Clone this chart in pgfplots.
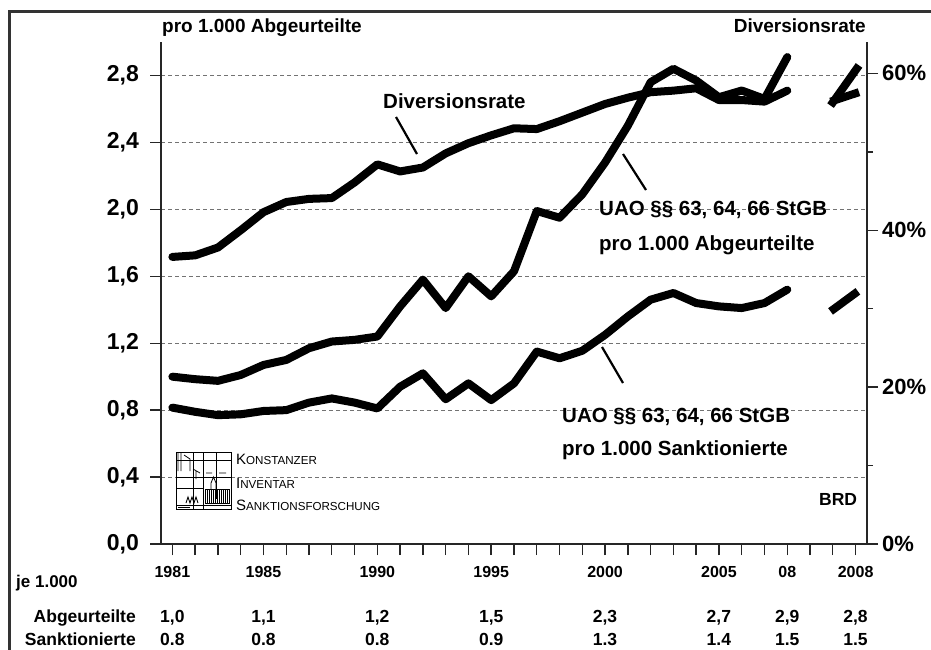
\documentclass[border=0pt]{standalone}
\usepackage{fontspec}
\setmainfont{Liberation Sans}
\usepackage{pgfplots}
\pgfplotsset{compat=1.18}

\newcommand\fs[1]{\fontsize{#1}{#1}\selectfont}

\begin{document}
\begin{tikzpicture}[x=1pt,y=1pt]
\useasboundingbox (0,0) rectangle (931,649);
\draw[line width=3pt, black!80] (9,637) rectangle (960,-30);

% left axis: per 1.000
\begin{axis}[
  at={(161pt,105pt)}, anchor=south west,
  scale only axis, width=706pt, height=502pt,
  xmin=1980.5, xmax=2011.5, ymin=0, ymax=3,
  axis x line*=bottom, axis y line*=left,
  axis line style={line width=1.6pt, black!85},
  tick style={line width=1.4pt, black!85},
  tick align=outside,
  major tick length=11pt, minor tick length=11pt,
  xtick={1981,1985,1990,1995,2000,2005,2008,2011},
  xticklabels={1981,1985,1990,1995,2000,2005,08,2008},
  minor xtick={1981,...,2011},
  ytick={0,0.4,0.8,1.2,1.6,2.0,2.4,2.8},
  ymajorgrids,
  major grid style={dash pattern=on 4pt off 3pt, black!55, line width=1pt},
  /pgf/number format/.cd, use comma, fixed, fixed zerofill, precision=1,
    assume math mode=true,
  /pgfplots/.cd,
  yticklabel style={font=\fs{23}\bfseries, inner sep=0pt, anchor=east, xshift=-11pt},
  xticklabel style={font=\fs{16}\bfseries, inner sep=0pt, anchor=base, yshift=-22pt},
]
\addplot[line width=8pt, line join=round, line cap=round] coordinates {
  (1981,1.00) (1982,0.985) (1983,0.975) (1984,1.01) (1985,1.07) (1986,1.10)
  (1987,1.17) (1988,1.21) (1989,1.22) (1990,1.24) (1991,1.42) (1992,1.58)
  (1993,1.41) (1994,1.60) (1995,1.48) (1996,1.63) (1997,1.99) (1998,1.95)
  (1999,2.09) (2000,2.28) (2001,2.50) (2002,2.76) (2003,2.84) (2004,2.77)
  (2005,2.67) (2006,2.71) (2007,2.66) (2008,2.91)};
\addplot[line width=8pt, line join=round, line cap=round] coordinates {
  (1981,0.815) (1982,0.79) (1983,0.77) (1984,0.775) (1985,0.795) (1986,0.80)
  (1987,0.845) (1988,0.87) (1989,0.845) (1990,0.81) (1991,0.94) (1992,1.02)
  (1993,0.865) (1994,0.96) (1995,0.86) (1996,0.96) (1997,1.15) (1998,1.11)
  (1999,1.155) (2000,1.25) (2001,1.36) (2002,1.46) (2003,1.50) (2004,1.44)
  (2005,1.42) (2006,1.41) (2007,1.44) (2008,1.52)};
\addplot[line width=8pt] coordinates {(2009.9,2.62) (2011.15,2.86)};
\addplot[line width=8pt] coordinates {(2009.9,1.39) (2011.1,1.51)};
\end{axis}

% right axis: Diversionsrate
\begin{axis}[
  at={(161pt,105pt)}, anchor=south west,
  scale only axis, width=706pt, height=502pt,
  xmin=1980.5, xmax=2011.5, ymin=0, ymax=64,
  axis x line=none, axis y line*=right,
  axis line style={line width=1.6pt, black!85},
  tick style={line width=1.4pt, black!85},
  tick align=outside,
  major tick length=11pt, minor tick length=6pt,
  ytick={0,20,40,60},
  yticklabels={0\%,20\%,40\%,60\%},
  minor ytick={10,30,50},
  yticklabel style={font=\fs{22}\bfseries, inner sep=0pt, anchor=west, xshift=4pt},
]
\addplot[line width=8pt, line join=round, line cap=round] coordinates {
  (1981,36.6) (1982,36.8) (1983,37.8) (1984,40.0) (1985,42.3) (1986,43.6)
  (1987,44.0) (1988,44.1) (1989,46.1) (1990,48.4) (1991,47.5) (1992,48.0)
  (1993,49.8) (1994,51.1) (1995,52.1) (1996,53.0) (1997,52.9) (1998,53.9)
  (1999,55.0) (2000,56.1) (2001,56.9) (2002,57.6) (2003,57.8) (2004,58.1)
  (2005,56.6) (2006,56.6) (2007,56.4) (2008,57.8)};
\addplot[line width=8pt] coordinates {(2009.9,56.4) (2011.15,57.6)};
\end{axis}

% titles and annotations
\node[anchor=base west, inner sep=0pt, font=\fs{19}\bfseries] at (162,616) {pro 1.000 Abgeurteilte};
\node[anchor=base east, inner sep=0pt, font=\fs{19}\bfseries] at (866,616) {Diversionsrate};
\node[anchor=base west, inner sep=0pt, font=\fs{20.5}\bfseries] at (383,540) {Diversionsrate};
\draw[line width=2.2pt] (396,532) -- (417,495);
\node[anchor=base west, inner sep=0pt, font=\fs{20.5}\bfseries] at (599,433) {UAO §§ 63, 64, 66 StGB};
\node[anchor=base west, inner sep=0pt, font=\fs{20.5}\bfseries] at (599,399) {pro 1.000 Abgeurteilte};
\draw[line width=2.2pt] (623,495) -- (646,459);
\node[anchor=base west, inner sep=0pt, font=\fs{20.5}\bfseries] at (562,227) {UAO §§ 63, 64, 66 StGB};
\node[anchor=base west, inner sep=0pt, font=\fs{20.5}\bfseries] at (562,194) {pro 1.000 Sanktionierte};
\draw[line width=2.2pt] (602,302) -- (623,266);
\node[anchor=base west, inner sep=0pt, font=\fs{17.5}\bfseries] at (819,144) {BRD};

% logo
\begin{scope}[line width=0.8pt]
  \draw (176,140) rectangle (231,197);
  \draw (193,140) -- (193,197) (203,140) -- (203,197) (216,150) -- (216,197);
  \draw (176,189) -- (231,189) (176,172) -- (231,172) (176,161) -- (203,161) (176,144) -- (231,144);
  \draw (178,178) -- (178,196) (181,178) -- (181,196) (184,194) -- (190,190) -- (190,178);
  \draw (193,180) -- (200,176) (196,178) -- (196,170) (206,176) -- (212,176) (219,176) -- (226,176);
  \draw (205,146) rectangle (229,160);
  \foreach \xx in {207,209,...,227} \draw[line width=0.5pt] (\xx,146) -- (\xx,160);
  \draw (211,160) -- (211,166) -- (213.5,172) -- (216,166) -- (216,160);
  \draw (186,146) -- (188,152) -- (190,146) -- (192,152) -- (194,146) -- (196,152) -- (198,146);
  \draw (178,142) -- (190,142);
\end{scope}
\node[anchor=base west, inner sep=0pt] at (236,185) {\fs{15}K\fs{11.6}ONSTANZER};
\node[anchor=base west, inner sep=0pt] at (236,161) {\fs{15}I\fs{11.6}NVENTAR};
\node[anchor=base west, inner sep=0pt] at (236,139) {\fs{15}S\fs{11.6}ANKTIONSFORSCHUNG};

% table below
\node[anchor=base west, inner sep=0pt, font=\fs{17}\bfseries] at (16,62) {je 1.000};
\node[anchor=base east, inner sep=0pt, font=\fs{17.5}\bfseries] at (136,27) {Abgeurteilte};
\node[anchor=base east, inner sep=0pt, font=\fs{17.5}\bfseries] at (136,4) {Sanktionierte};
\foreach \xx/\a/\s in {172.4/{1,0}/0.8, 263.5/{1,1}/0.8, 377.3/{1,2}/0.8, 491.2/{1,5}/0.9,
    605.0/{2,3}/1.3, 718.9/{2,7}/1.4, 787.2/{2,9}/1.5, 855.5/{2,8}/1.5} {
  \node[anchor=base, inner sep=0pt, font=\fs{17.5}\bfseries] at (\xx,27) {\a};
  \node[anchor=base, inner sep=0pt, font=\fs{17.5}\bfseries] at (\xx,4) {\s};
}
\end{tikzpicture}
\end{document}
